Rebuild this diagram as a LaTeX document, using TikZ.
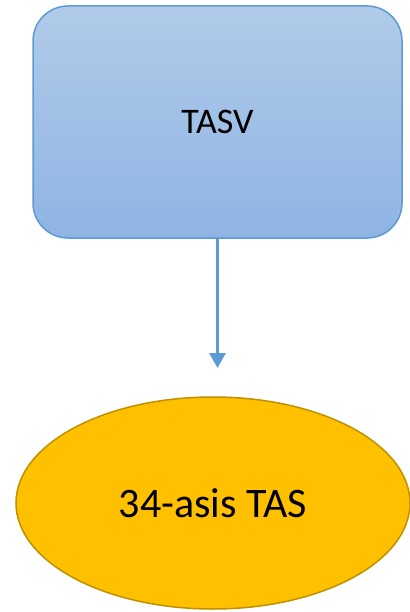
\documentclass[tikz,border=0pt]{standalone}
\usepackage{fontspec}
\setmainfont{Carlito}
\usetikzlibrary{shapes.geometric,arrows.meta}
\definecolor{boxtop}{HTML}{B1CBE9}
\definecolor{boxbot}{HTML}{8FB4E3}
\definecolor{boxline}{HTML}{5B9BD5}
\definecolor{ellfill}{HTML}{FFC000}
\definecolor{ellline}{HTML}{BF9000}
\tikzset{
  bluebox/.style={draw=boxline, line width=1.5pt, rounded corners=35pt, top color=boxtop, bottom color=boxbot,
    minimum width=369pt, minimum height=232pt, inner sep=0pt, font=\fontsize{36}{40}\selectfont},
  goldell/.style={ellipse, draw=ellline, line width=1.5pt, fill=ellfill, minimum width=394pt, minimum height=212pt,
    inner sep=0pt, font=\fontsize{42}{46}\selectfont},
  conn/.style={draw=boxline, line width=3pt, -{Triangle[length=15pt,width=16pt]}}
}
\begin{document}
\begin{tikzpicture}[x=1pt,y=-1pt]
\useasboundingbox (0,0) rectangle (409,612);
\node[bluebox] (a) at (217.5,122) {TASV};
\node[goldell] (b) at (213,503) {34-asis TAS};
\coordinate (tip) at (217.5,368);
\draw[conn] (a.south) -- (tip);
\end{tikzpicture}
\end{document}
